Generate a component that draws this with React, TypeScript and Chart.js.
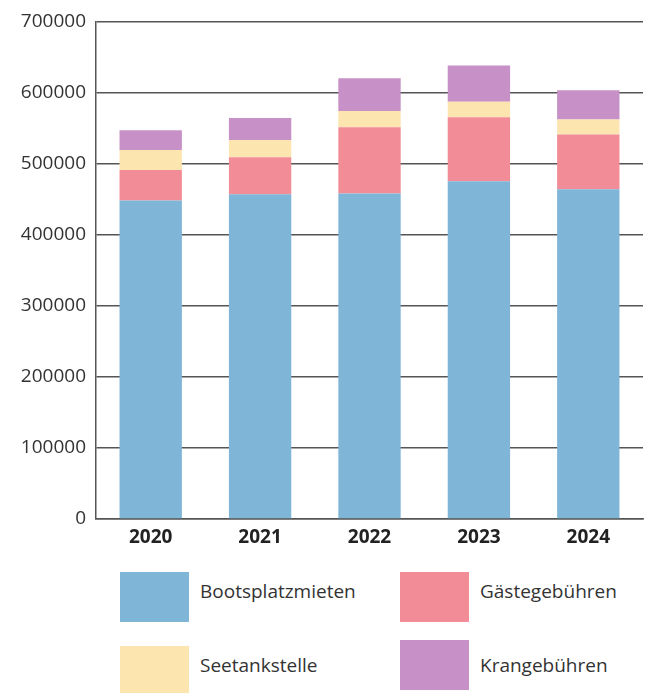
import React, { useEffect, useRef } from "react";
import { Chart, registerables } from "chart.js";

Chart.register(...registerables);

const years = ["2020", "2021", "2022", "2023", "2024"];
const seriesNames = ["Bootsplatzmieten", "Gästegebühren", "Seetankstelle", "Krangebühren"];
const bootsplatzmieten = [448000, 457000, 458000, 475000, 464000];
const gaestegebuehren = [43000, 52000, 93000, 90000, 77000];
const seetankstelle = [28000, 24000, 23000, 22000, 21000];
const krangebuehren = [28000, 31000, 46000, 51000, 41000];
const seriesColors = ["#7fb6d8", "#f28c96", "#fde5b0", "#c790c6"];
const yTicks = [0, 100000, 200000, 300000, 400000, 500000, 600000, 700000];

const FONT = "'Open Sans', 'Noto Sans', sans-serif";

export default function App() {
  const ref = useRef<HTMLCanvasElement | null>(null);

  useEffect(() => {
    if (!ref.current) return;
    const values = [bootsplatzmieten, gaestegebuehren, seetankstelle, krangebuehren];
    const chart = new Chart(ref.current, {
      type: "bar",
      data: {
        labels: years,
        datasets: values.map((v, i) => ({
          label: seriesNames[i],
          data: v,
          backgroundColor: seriesColors[i],
          borderWidth: 0,
          categoryPercentage: 1,
          barPercentage: 0.57,
        })),
      },
      options: {
        animation: false,
        responsive: false,
        maintainAspectRatio: false,
        layout: { padding: { left: 8, right: 9, top: 10, bottom: 0 } },
        plugins: {
          legend: { display: false },
          tooltip: { enabled: false },
        },
        scales: {
          x: {
            stacked: true,
            grid: { display: false },
            border: { display: true, color: "#555", width: 1.5 },
            ticks: {
              color: "#222",
              font: { family: FONT, size: 19, weight: "bold" },
              padding: -1,
            },
            afterFit: (s: any) => {
              s.height = 41;
            },
          },
          y: {
            stacked: true,
            min: 0,
            max: 700000,
            z: 1,
            afterBuildTicks: (s: any) => {
              s.ticks = yTicks.map((v) => ({ value: v }));
            },
            grid: { color: "#555", lineWidth: 1.5, drawTicks: false },
            border: { display: true, color: "#555", width: 1.5 },
            ticks: {
              color: "#333",
              font: { family: FONT, size: 19 },
              padding: 10,
              callback: (v: any) => String(v),
            },
            afterFit: (s: any) => {
              s.width = 88;
            },
          },
        },
      },
    });
    return () => chart.destroy();
  }, []);

  const legendPos = [
    { box: [120, 572], text: [200, 591] },
    { box: [400, 572], text: [480, 591] },
    { box: [120, 646], text: [200, 665] },
    { box: [400, 640], text: [480, 665] },
  ];

  return (
    <div style={{ position: "fixed", left: 0, top: 0, width: 652, height: 693, background: "#fff", overflow: "hidden" }}>
      <canvas ref={ref} width={652} height={560} style={{ position: "absolute", left: 0, top: 0, width: 652, height: 560 }} />
      {seriesNames.map((name, i) => (
        <React.Fragment key={name}>
          <div
            style={{
              position: "absolute",
              left: legendPos[i].box[0],
              top: legendPos[i].box[1],
              width: 69,
              height: 50,
              background: seriesColors[i],
            }}
          />
          <div
            style={{
              position: "absolute",
              left: legendPos[i].text[0],
              top: legendPos[i].text[1] - 14,
              fontFamily: FONT,
              fontSize: 19,
              lineHeight: "28px",
              color: "#333",
              whiteSpace: "nowrap",
            }}
          >
            {name}
          </div>
        </React.Fragment>
      ))}
    </div>
  );
}
